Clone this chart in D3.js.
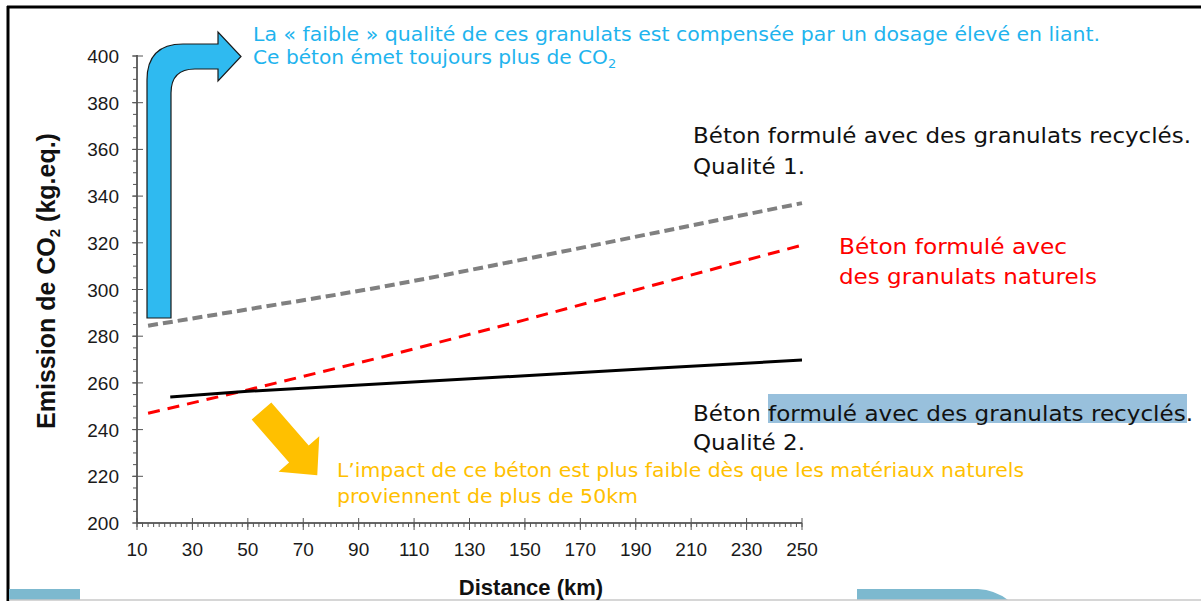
<!DOCTYPE html>
<meta charset="utf-8">
<style>
body { margin: 0; background: #fff; }
svg { display: block; }
.tick-label { font-family: "Liberation Sans", Arial, sans-serif; fill: #1a1a1a; }
.note { font-family: "DejaVu Sans", Verdana, sans-serif; }
</style>
<svg width="1201" height="601"></svg>
<script src="https://d3js.org/d3.v7.min.js"></script>
<script>

// distances (km) and CO2 emission (kg eq.)
var distGray = [14, 50, 100, 150, 200, 250],
    co2Gray  = [284.5, 291.5, 301.5, 313, 325, 337];   // recycled, quality 1
var distRed  = [14, 50, 100, 150, 200, 250],
    co2Red   = [247, 257, 271.5, 287, 303, 319];       // natural aggregates
var distBlack = [22, 50, 100, 150, 200, 250],
    co2Black  = [254, 256.4, 259.7, 263.1, 266.5, 269.8]; // recycled, quality 2

var xTicks = [10, 30, 50, 70, 90, 110, 130, 150, 170, 190, 210, 230, 250];
var yTicks = [200, 220, 240, 260, 280, 300, 320, 340, 360, 380, 400];

var svg = d3.select('svg');

var x = d3.scaleLinear().domain([10, 250]).range([137, 802]);
var y = d3.scaleLinear().domain([200, 400]).range([523, 56]);

// slide frame bits
svg.append('line').attr('x1', 8).attr('y1', 6).attr('x2', 8).attr('y2', 601)
   .style('stroke', '#000').style('stroke-width', 3);
svg.append('line').attr('x1', 7).attr('y1', 7).attr('x2', 1201).attr('y2', 7)
   .style('stroke', '#000').style('stroke-width', 3);
svg.append('rect').attr('x', 9).attr('y', 589).attr('width', 71).attr('height', 11)
   .style('fill', '#7db9cf');
svg.append('path').attr('d', 'M857,589 L978,589 Q995,590 1008,600 L857,600 Z')
   .style('fill', '#7db9cf');
svg.append('line').attr('x1', 9).attr('y1', 600).attr('x2', 1201).attr('y2', 600)
   .style('stroke', '#c8c8c8').style('stroke-width', 1.5);

// axes
var axisColor = '#333';
svg.append('line').attr('x1', x(10)).attr('y1', y(400) - 1).attr('x2', x(10)).attr('y2', y(200))
   .style('stroke', axisColor).style('stroke-width', 1.5);
svg.append('line').attr('x1', x(10)).attr('y1', y(200)).attr('x2', x(250)).attr('y2', y(200))
   .style('stroke', axisColor).style('stroke-width', 1.5);

// y minor + major ticks
svg.selectAll('.yminor').data(d3.range(200, 401, 5)).enter().append('line')
   .attr('x1', x(10) - 4).attr('x2', x(10))
   .attr('y1', function(d) { return y(d) }).attr('y2', function(d) { return y(d) })
   .style('stroke', '#555').style('stroke-width', 1);
svg.selectAll('.ymajor').data(yTicks).enter().append('line')
   .attr('x1', x(10) - 5).attr('x2', x(10) + 6)
   .attr('y1', function(d) { return y(d) }).attr('y2', function(d) { return y(d) })
   .style('stroke', '#555').style('stroke-width', 1);
svg.selectAll('.ylab').data(yTicks).enter().append('text')
   .attr('class', 'tick-label')
   .attr('x', 119).attr('y', function(d) { return y(d) + 7 })
   .attr('text-anchor', 'end').style('font-size', '19px')
   .text(function(d) { return d });

// x minor + major ticks
svg.selectAll('.xminor').data(d3.range(10, 251, 2)).enter().append('line')
   .attr('x1', function(d) { return x(d) }).attr('x2', function(d) { return x(d) })
   .attr('y1', y(200)).attr('y2', y(200) + 4)
   .style('stroke', '#555').style('stroke-width', 1);
svg.selectAll('.xmajor').data(xTicks).enter().append('line')
   .attr('x1', function(d) { return x(d) }).attr('x2', function(d) { return x(d) })
   .attr('y1', y(200) - 5).attr('y2', y(200) + 7)
   .style('stroke', '#555').style('stroke-width', 1);
svg.selectAll('.xlab').data(xTicks).enter().append('text')
   .attr('class', 'tick-label')
   .attr('x', function(d) { return x(d) }).attr('y', 556)
   .attr('text-anchor', 'middle').style('font-size', '19px')
   .text(function(d) { return d });

// axis titles
var ytitle = svg.append('text')
   .attr('transform', 'translate(55,281) rotate(-90)')
   .attr('text-anchor', 'middle')
   .style('font-family', '"Liberation Sans", Arial, sans-serif')
   .style('font-weight', 'bold').style('font-size', '25px').style('fill', '#111');
ytitle.append('tspan').text('Emission de CO');
ytitle.append('tspan').attr('dy', 5).style('font-size', '15px').text('2');
ytitle.append('tspan').attr('dy', -5).text(' (kg.eq.)');

svg.append('text').attr('x', 531).attr('y', 595).attr('text-anchor', 'middle')
   .style('font-family', '"Liberation Sans", Arial, sans-serif')
   .style('font-weight', 'bold').style('font-size', '22px').style('fill', '#111')
   .text('Distance (km)');

// series lines
function pairs(xs, ys) { return xs.map(function(d, i) { return [d, ys[i]] }) }
var line = d3.line()
   .x(function(d) { return x(d[0]) })
   .y(function(d) { return y(d[1]) });

svg.append('path').datum(pairs(distGray, co2Gray)).attr('d', line.curve(d3.curveMonotoneX))
   .style('fill', 'none').style('stroke', '#808080').style('stroke-width', 4)
   .style('stroke-dasharray', '10,5');
line.curve(d3.curveLinear);
svg.append('path').datum(pairs(distRed, co2Red)).attr('d', line)
   .style('fill', 'none').style('stroke', '#ff0000').style('stroke-width', 3)
   .style('stroke-dasharray', '12,8');
svg.append('path').datum(pairs(distBlack, co2Black)).attr('d', line)
   .style('fill', 'none').style('stroke', '#000').style('stroke-width', 3);

// blue bent arrow
svg.append('path')
   .attr('d', 'M147,318 L147,80 Q147,44 183,44 L218,44 L218,32 L241,56.5 L218,81 L218,69 L195,69 Q171,69 171,93 L171,318 Z')
   .style('fill', '#2fbaf0').style('stroke', '#1a1a1a').style('stroke-width', 1.2);

// orange arrow
svg.append('path')
   .attr('transform', 'translate(261.5,411) rotate(49)')
   .attr('d', 'M0,-13 L57,-13 L57,-27 L85,0 L57,27 L57,13 L0,13 Z')
   .style('fill', '#ffc000');

// annotations
function note(x0, y0, str, size, color, w) {
  var t = svg.append('text').attr('class', 'note')
     .attr('x', x0).attr('y', y0)
     .style('font-size', size + 'px').style('fill', color)
     .text(str);
  if (w) t.attr('textLength', w).attr('lengthAdjust', 'spacingAndGlyphs');
  return t;
}

var blue = '#1fb4ee';
note(253, 41, 'La « faible » qualité de ces granulats est compensée par un dosage élevé en liant.', 19.5, blue, 847);
var b2 = svg.append('text').attr('class', 'note').attr('x', 253).attr('y', 64)
   .style('font-size', '19.5px').style('fill', blue);
b2.append('tspan').attr('textLength', 355).attr('lengthAdjust', 'spacingAndGlyphs')
   .text('Ce béton émet toujours plus de CO');
b2.append('tspan').attr('dy', 4).style('font-size', '13px').text('2');

note(693, 143, 'Béton formulé avec des granulats recyclés.', 22, '#111', 498);
note(693, 174, 'Qualité 1.', 22, '#111', 112);

note(839, 254, 'Béton formulé avec', 22, '#ff0000', 228);
note(839, 284, 'des granulats naturels', 22, '#ff0000', 258);

svg.append('rect').attr('x', 768).attr('y', 394).attr('width', 419).attr('height', 29)
   .style('fill', '#98c0dc');
note(693, 421, 'Béton formulé avec des granulats recyclés.', 22, '#111', 500);
note(693, 450, 'Qualité 2.', 22, '#111', 112);

var orange = '#ffc000';
note(337, 477, 'L’impact de ce béton est plus faible dès que les matériaux naturels', 19.5, orange, 687);
note(337, 503, 'proviennent de plus de 50km', 19.5, orange, 301);

</script>
